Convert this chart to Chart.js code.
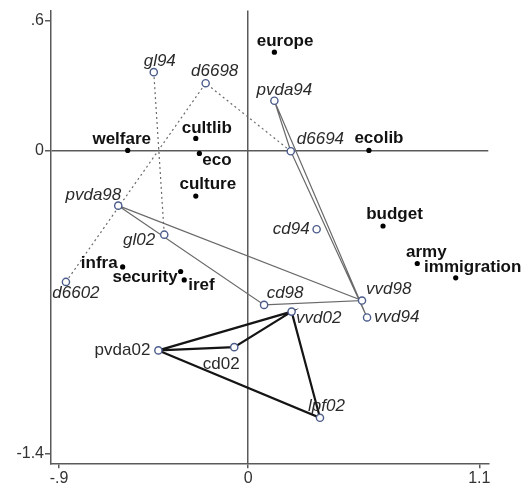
<!DOCTYPE html>
<html lang="en">

<head>
    <meta charset="utf-8" />
    <title>Issue and party positions</title>
    <script src="https://cdn.jsdelivr.net/npm/chart.js@4.4.0/dist/chart.umd.min.js"></script>
    <style>
        body {
            margin: 0;
            background: #fff;
        }
    </style>
</head>

<body>
    <canvas id="chart-map" width="528" height="484"></canvas>
</body>

<script>
    // issues (bold labels, filled dots)
    const issueNames = ['europe', 'welfare', 'cultlib', 'eco', 'culture', 'ecolib', 'budget', 'army', 'immigration', 'infra', 'security', 'iref'];
    const issueX = [0.125, -0.573, -0.249, -0.232, -0.249, 0.575, 0.642, 0.805, 0.988, -0.597, -0.321, -0.304];
    const issueY = [0.453, 0, 0.055, -0.014, -0.211, 0, -0.349, -0.522, -0.588, -0.538, -0.559, -0.598];

    // parties per election (italic labels, hollow circles)
    const partyNames = ['gl94', 'd6698', 'pvda94', 'd6694', 'cd94', 'pvda98', 'gl02', 'd6602', 'cd98', 'vvd98', 'vvd94', 'vvd02', 'lpf02', 'pvda02', 'cd02'];
    const partyX = [-0.449, -0.202, 0.125, 0.203, 0.326, -0.618, -0.399, -0.867, 0.076, 0.542, 0.566, 0.207, 0.342, -0.427, -0.066];
    const partyY = [0.361, 0.310, 0.229, -0.004, -0.364, -0.255, -0.389, -0.607, -0.713, -0.693, -0.771, -0.744, -1.234, -0.923, -0.908];

    // connections between parties
    const dottedPaths = [['gl94', 'gl02'], ['d6694', 'd6698', 'd6602']];
    const thinPaths = [['pvda94', 'd6694', 'vvd94', 'pvda94'], ['pvda98', 'cd98', 'vvd98', 'pvda98']];
    const thickPaths = [['pvda02', 'cd02', 'vvd02', 'pvda02'], ['pvda02', 'lpf02', 'vvd02']];

    const xTicks = [-0.9, 0, 1.1];
    const yTicks = [0.6, 0, -1.4];

    // label placement: [dx, dy, align]
    const labelPlace = {
        europe: [10.7, -11, 'center'], welfare: [-6, -11, 'center'], cultlib: [11, -10, 'center'],
        eco: [3, 7, 'left'], culture: [12, -12, 'center'], ecolib: [10, -12, 'center'],
        budget: [11.5, -12, 'center'], army: [9, -11, 'center'], immigration: [17, -10, 'center'],
        infra: [-5, -4, 'right'], security: [-3, 6, 'right'], iref: [4, 5, 'left'],
        gl94: [6, -11, 'center'], d6698: [9, -12, 'center'], pvda94: [10, -10, 'center'],
        d6694: [6, -12, 'left'], cd94: [-7, 0, 'right'], pvda98: [3, -10, 'right'],
        gl02: [-9, 6, 'right'], d6602: [10, 11, 'center'], cd98: [21, -12, 'center'],
        vvd98: [4, -11, 'left'], vvd94: [7, 0, 'left'], vvd02: [4.5, 7, 'left'],
        lpf02: [6.5, -11.5, 'center'], pvda02: [-8, 0, 'right'], cd02: [-13, 17, 'center']
    };
    const uprightParties = ['pvda02', 'cd02'];

    const FONT = '"Liberation Sans", Arial, Helvetica, sans-serif';
    const AXIS = '#5a5a5a';

    const _partyPt = name => {
        const i = partyNames.indexOf(name);
        return { x: partyX[i], y: partyY[i] };
    };

    const _pathSets = (paths, color, width, dash) => paths.map(p => ({
        data: p.map(_partyPt),
        showLine: true,
        borderColor: color,
        borderWidth: width,
        borderDash: dash,
        pointRadius: 0,
        fill: false,
        order: 3
    }));

    const _fmt = v => String(v).replace(/^(-?)0\./, '$1.');

    const labelPlugin = {
        id: 'pointLabels',
        afterDatasetsDraw(chart) {
            const ctx = chart.ctx;
            ctx.save();
            ctx.textBaseline = 'middle';
            chart.data.datasets.forEach((ds, di) => {
                if (!ds.names) return;
                const meta = chart.getDatasetMeta(di);
                ds.names.forEach((name, i) => {
                    const pt = meta.data[i];
                    const [dx, dy, align] = labelPlace[name];
                    if (ds.isIssue) {
                        ctx.font = `bold 17px ${FONT}`;
                        ctx.fillStyle = '#111';
                    } else {
                        ctx.font = `${uprightParties.includes(name) ? '' : 'italic '}17px ${FONT}`;
                        ctx.fillStyle = '#2a2a2a';
                    }
                    ctx.textAlign = align;
                    ctx.fillText(name, pt.x + dx, pt.y + dy);
                });
            });
            ctx.restore();
        }
    };

    const datasets = [
        ..._pathSets(dottedPaths, '#6a6a6a', 1.2, [2, 3]),
        ..._pathSets(thinPaths, '#6a6a6a', 1.2, []),
        ..._pathSets(thickPaths, '#151515', 2.2, []),
        {
            names: partyNames,
            data: partyNames.map((n, i) => ({ x: partyX[i], y: partyY[i] })),
            pointRadius: 3.6,
            pointBorderWidth: 1.4,
            pointBorderColor: '#4c5d8c',
            pointBackgroundColor: '#ffffff',
            order: 1
        },
        {
            names: issueNames,
            isIssue: true,
            data: issueNames.map((n, i) => ({ x: issueX[i], y: issueY[i] })),
            pointRadius: 2.6,
            pointBorderWidth: 0,
            pointBackgroundColor: '#000000',
            order: 2
        }
    ];

    const _gridColor = c => (c.tick && c.tick.value === 0 ? AXIS : 'rgba(0,0,0,0)');

    new Chart(document.getElementById('chart-map').getContext('2d'), {
        type: 'scatter',
        data: { datasets },
        plugins: [labelPlugin],
        options: {
            responsive: false,
            animation: false,
            layout: { padding: { left: 0, right: 39.7, top: 9, bottom: 0 } },
            plugins: { legend: { display: false }, tooltip: { enabled: false } },
            scales: {
                x: {
                    type: 'linear',
                    min: -0.938,
                    max: 1.143,
                    afterBuildTicks: s => { s.ticks = xTicks.map(v => ({ value: v })); },
                    afterFit: s => { s.height = 20.7; },
                    ticks: {
                        callback: _fmt,
                        autoSkip: false,
                        maxRotation: 0,
                        padding: 1,
                        color: '#333',
                        font: { family: FONT, size: 16 }
                    },
                    grid: { color: _gridColor, lineWidth: 1.5, tickColor: AXIS, tickLength: 5 },
                    border: { color: AXIS, width: 1.5 }
                },
                y: {
                    type: 'linear',
                    min: -1.444,
                    max: 0.645,
                    afterBuildTicks: s => { s.ticks = yTicks.map(v => ({ value: v })); },
                    afterFit: s => { s.width = 51; },
                    ticks: {
                        callback: _fmt,
                        autoSkip: false,
                        padding: 1,
                        color: '#333',
                        font: { family: FONT, size: 16 }
                    },
                    grid: { color: _gridColor, lineWidth: 1.5, tickColor: AXIS, tickLength: 6 },
                    border: { color: AXIS, width: 1.5 }
                }
            }
        }
    });
</script>

</html>
